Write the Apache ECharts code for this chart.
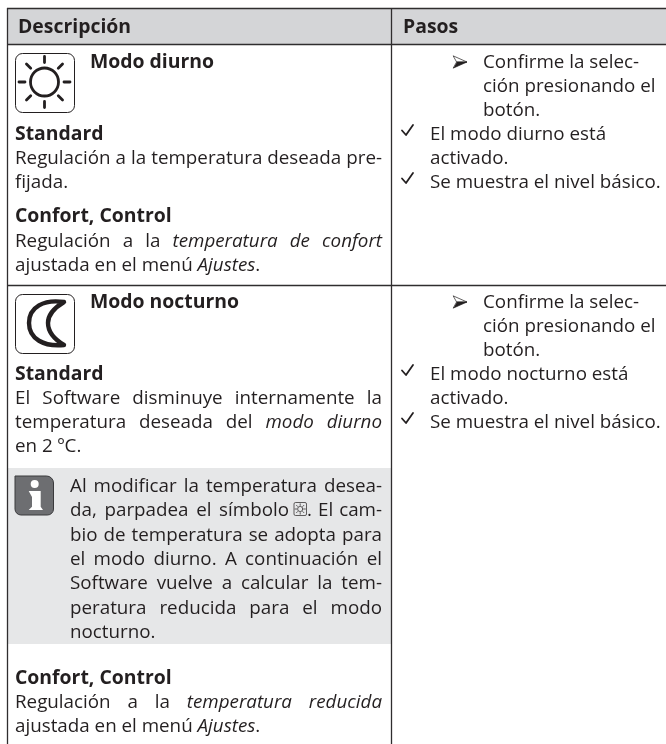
<!DOCTYPE html>
<html>
<head>
<meta charset="utf-8">
<style>html,body{margin:0;padding:0;background:#fff}#main{width:666px;height:744px}</style>
<script src="https://cdn.jsdelivr.net/npm/echarts@6/dist/echarts.min.js"></script>
</head>
<body>
<div id="main"></div>
<script>
const FONT = '"Open Sans", sans-serif';
const INK = '#231f20';

// each line: [x, baseline, right edge for justify or 0, runs] ; runs starting with / are italic, * bold
const descLines = [
  [90, 68, 0, ['*Modo diurno']],
  [15, 140, 0, ['*Standard']],
  [15, 164, 382, ['Regulación a la temperatura deseada pre-']],
  [15, 188, 0, ['fijada.']],
  [15, 222, 0, ['*Confort, Control']],
  [15, 247, 382, ['Regulación a la ', '/temperatura de confort']],
  [15, 271, 0, ['ajustada en el menú ', '/Ajustes', '.']],
  [90, 308, 0, ['*Modo nocturno']],
  [15, 380, 0, ['*Standard']],
  [15, 404, 382, ['El Software disminuye internamente la']],
  [15, 428, 382, ['temperatura deseada del ', '/modo diurno']],
  [15, 452, 0, ['en 2 ºC.']],
  [70, 492, 382, ['Al modificar la temperatura desea-']],
  [70, 516, 289, ['da, parpadea el símbolo']],
  [307, 516, 382, ['. El cam-']],
  [70, 541, 382, ['bio de temperatura se adopta para']],
  [70, 565, 382, ['el modo diurno. A continuación el']],
  [70, 589, 382, ['Software vuelve a calcular la tem-']],
  [70, 614, 382, ['peratura reducida para el modo']],
  [70, 638, 0, ['nocturno.']],
  [15, 684, 0, ['*Confort, Control']],
  [15, 708, 382, ['Regulación a la ', '/temperatura reducida']],
  [15, 732, 0, ['ajustada en el menú ', '/Ajustes', '.']]
];

const stepLines = [
  [483, 68, 'Confirme la selec-'],
  [483, 92, 'ción presionando el'],
  [483, 116, 'botón.'],
  [430, 140, 'El modo diurno está'],
  [430, 164, 'activado.'],
  [430, 188, 'Se muestra el nivel básico.'],
  [483, 308, 'Confirme la selec-'],
  [483, 332, 'ción presionando el'],
  [483, 356, 'botón.'],
  [430, 380, 'El modo nocturno está'],
  [430, 404, 'activado.'],
  [430, 428, 'Se muestra el nivel básico.']
];
const arrowRows = [68, 308];
const checkRows = [140, 188, 380, 428];

const FS = 18.8;
const FS_BOLD = 19.4;
const ctx = document.createElement('canvas').getContext('2d');
function fontOf(italic, bold) {
  return (italic ? 'italic ' : 'normal ') + (bold ? 700 : 400) + ' ' + (bold ? FS_BOLD : FS) + 'px ' + FONT;
}
function txt(x, y, s, italic, bold) {
  return {
    type: 'text', x: x, y: y - FS * 0.31, silent: true,
    style: {
      text: s, fill: INK, fontFamily: FONT,
      fontSize: bold ? FS_BOLD : FS,
      fontStyle: italic ? 'italic' : 'normal',
      fontWeight: bold ? 700 : 400,
      verticalAlign: 'middle'
    }
  };
}

// break the runs into words and spread them to the right edge when asked
function layoutLine(line) {
  const x0 = line[0], y = line[1], right = line[2], runs = line[3];
  const words = [];
  runs.forEach(function (r) {
    const italic = r[0] === '/', bold = r[0] === '*';
    const body = (italic || bold) ? r.slice(1) : r;
    body.split(/(\s+)/).forEach(function (p) {
      if (p === '') return;
      words.push({ s: p, italic: italic, bold: bold, space: /^\s+$/.test(p) });
    });
  });
  let total = 0, spaces = 0;
  words.forEach(function (w) {
    ctx.font = fontOf(w.italic, w.bold);
    w.w = ctx.measureText(w.s).width;
    total += w.w;
    if (w.space) spaces += w.s.length;
  });
  const extra = right && spaces ? (right - x0 - total) / spaces : 0;
  let x = x0;
  const out = [];
  words.forEach(function (w) {
    if (w.space) { x += w.w + extra * w.s.length; return; }
    out.push(txt(x, y, w.s, w.italic, w.bold));
    x += w.w;
  });
  return out;
}

function sunPath(cx, cy, r, r1, r2) {
  let d = 'M' + (cx + r) + ' ' + cy + 'A' + r + ' ' + r + ' 0 1 1 ' + (cx - r) + ' ' + cy + 'A' + r + ' ' + r + ' 0 1 1 ' + (cx + r) + ' ' + cy;
  for (let i = 0; i < 8; i++) {
    const a = i * Math.PI / 4, c = Math.cos(a), s = Math.sin(a);
    d += 'M' + (cx + r1 * c) + ' ' + (cy + r1 * s) + 'L' + (cx + r2 * c) + ' ' + (cy + r2 * s);
  }
  return d;
}
// the graphic component has no plain path type, so each icon becomes a registered shape
let shapeCount = 0;
function pathEl(d, stroke, lw, fill) {
  const name = 'iconShape' + (shapeCount++);
  echarts.graphic.registerShape(name, echarts.graphic.extendPath(d, {}));
  return {
    type: name, silent: true,
    style: { stroke: stroke || null, lineWidth: lw || 0, fill: fill || null, lineCap: 'round', lineJoin: 'round' }
  };
}
function box(x, y, w, h, r) {
  return { type: 'rect', silent: true, shape: { x: x, y: y, width: w, height: h, r: r },
    style: { fill: '#fff', stroke: INK, lineWidth: 1 } };
}
function rule(x1, y1, x2, y2) {
  return { type: 'line', silent: true, shape: { x1: x1, y1: y1, x2: x2, y2: y2 },
    style: { stroke: '#2f2d2e', lineWidth: 1.3 } };
}

const els = [];
// header and note backgrounds
els.push({ type: 'rect', silent: true, shape: { x: 7, y: 8, width: 659, height: 36 }, style: { fill: '#d4d5d7' } });
els.push({ type: 'rect', silent: true, shape: { x: 8, y: 468, width: 383, height: 176 }, style: { fill: '#e6e7e8' } });
// grid lines
els.push(rule(7, 8.5, 666, 8.5), rule(7, 44.5, 666, 44.5), rule(7, 285.5, 666, 285.5));
els.push(rule(7.5, 8, 7.5, 744), rule(391.5, 8, 391.5, 744));
// header text
els.push(txt(18, 33, 'Descripción', false, true));
els.push(txt(403, 33, 'Pasos', false, true));
// sun icon
els.push(box(15.5, 53.5, 59, 59, 7));
els.push(pathEl(sunPath(44.5, 82, 14, 19.5, 25.5), INK, 2.8));
// moon icon
els.push(box(15.5, 294.5, 59, 59, 7));
els.push(pathEl('M64 302C44 299 29 307 29 323C29 339 44 347 64 345C54 339 48 332 48 323C48 314 54 308 64 302Z', INK, 4.4));
// info icon
els.push({ type: 'rect', silent: true, shape: { x: 15, y: 476, width: 38.5, height: 39, r: [0, 7, 6, 6] }, style: { fill: '#6d6e71', stroke: '#3a3a3c', lineWidth: 1 } });
els.push(pathEl('M28.7 491L40.7 491L40.7 506.7L43 510L28.7 510L32 506.7L32 497Z', null, 0, '#fff'));
els.push({ type: 'circle', silent: true, shape: { cx: 34.7, cy: 484, r: 4 }, style: { fill: '#fff' } });
// small sun symbol inside the note text
els.push({ type: 'rect', silent: true, shape: { x: 294, y: 502.5, width: 12.5, height: 13, r: 1.5 }, style: { fill: 'none', stroke: INK, lineWidth: 0.7 } });
els.push(pathEl(sunPath(300.2, 509, 2.6, 3.6, 5.2), INK, 0.7));

descLines.forEach(function (l) { layoutLine(l).forEach(function (e) { els.push(e); }); });
stepLines.forEach(function (l) { els.push(txt(l[0], l[1], l[2])); });

arrowRows.forEach(function (b) {
  // wing-style arrow: upper half outlined, lower half filled
  els.push(pathEl('M453.5 ' + (b - 12) + 'L467 ' + (b - 6) + 'L457 ' + (b - 6) + 'Z', INK, 0.7, '#fff'));
  els.push(pathEl('M453.5 ' + b + 'L467 ' + (b - 6) + 'L457 ' + (b - 6) + 'Z', INK, 0.7, INK));
});
checkRows.forEach(function (b) {
  els.push(pathEl('M402 ' + (b - 9.5) + 'L406 ' + (b - 5) + 'L413 ' + (b - 15), INK, 1.8));
});

const chart = echarts.init(document.getElementById('main'), null, { renderer: 'canvas' });
chart.setOption({ animation: false, backgroundColor: '#fff', graphic: { elements: els } });
</script>
</body>
</html>
